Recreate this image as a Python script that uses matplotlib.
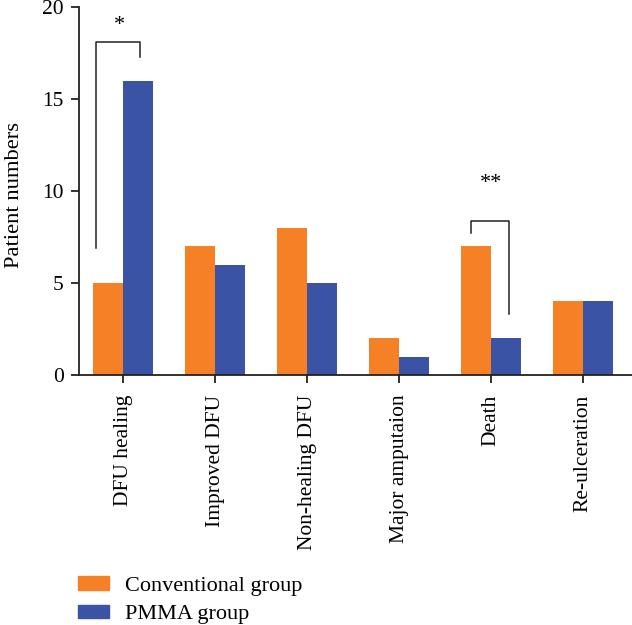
import matplotlib
matplotlib.use("Agg")
import matplotlib.pyplot as plt
import numpy as np
from matplotlib.patches import Patch

categories = ["DFU healing", "Improved DFU", "Non-healing DFU",
              "Major amputaion", "Death", "Re-ulceration"]
conventional = [5, 7, 8, 2, 7, 4]
pmma = [16, 6, 5, 1, 2, 4]
series_names = ["Conventional group", "PMMA group"]

ORANGE = "#F58025"
BLUE = "#3A53A4"
INK = "#222222"

plt.rcParams["font.family"] = ["Liberation Serif", "DejaVu Serif"]

fig = plt.figure(figsize=(6.32, 6.25), dpi=100)
ax = fig.add_axes([0.125, 0.4, 0.875, 0.5888])

x = np.arange(len(categories))
w = 0.326
ax.bar(x - w / 2, conventional, w, color=ORANGE)
ax.bar(x + w / 2, pmma, w, color=BLUE)

ax.set_xlim(-0.48, 5.53)
ax.set_ylim(0, 20)
ax.set_yticks([0, 5, 10, 15, 20])
ax.set_xticks(x)
ax.set_xticklabels(categories, rotation=90, fontsize=15.5)
ax.tick_params(axis="y", labelsize=15.5, length=6, width=1.3, color=INK, pad=5)
ax.tick_params(axis="x", length=6, width=1.3, color=INK, pad=8)
ax.set_ylabel("Patient numbers", fontsize=16.2)
ax.yaxis.set_label_coords(-0.1, 0.49)
ax.spines[["top", "right"]].set_visible(False)
for s in ("left", "bottom"):
    ax.spines[s].set_linewidth(1.3)
    ax.spines[s].set_color(INK)

# significance brackets
ax.plot([-0.29, -0.29, 0.185, 0.185], [6.9, 18.1, 18.1, 17.3], color=INK, lw=1.1)
ax.text(-0.04, 18.5, "*", ha="center", va="bottom", fontsize=16)
ax.plot([3.78, 3.78, 4.196, 4.196], [7.72, 8.37, 8.37, 3.3], color=INK, lw=1.1)
ax.text(4.0, 9.9, "**", ha="center", va="bottom", fontsize=16)

handles = [Patch(color=ORANGE), Patch(color=BLUE)]
fig.legend(handles, series_names, loc="lower left", bbox_to_anchor=(0.092, -0.031),
           frameon=False, fontsize=16, handlelength=1.4, handleheight=0.58,
           labelspacing=0.38, handletextpad=0.7)

fig.savefig("out.png", dpi=100)
